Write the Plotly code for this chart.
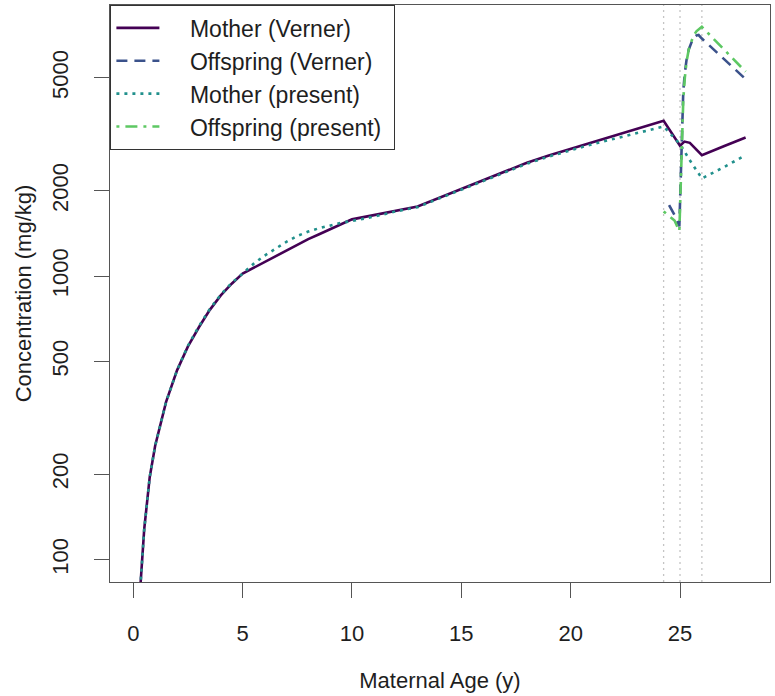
import plotly.graph_objects as go

# ---------------- data ----------------
age_mother = [0.25, 0.34, 0.5, 0.75, 1.0, 1.5, 2.0, 2.5, 3.0, 3.5, 4.0, 4.5, 5.0,
              5.5, 6.0, 6.5, 7.0, 7.5, 8.0, 8.5, 9.0, 9.5, 10.0, 11.0, 12.0, 13.0, 14.0,
              15.0, 16.0, 17.0, 18.0, 19.0, 20.0, 21.0, 22.0, 23.0, 24.0, 24.25, 25.0,
              25.2, 25.45, 26.0, 27.0, 28.0]
mother_verner = [70, 84, 128, 195, 252, 360, 465, 565, 660, 760, 855, 940, 1020,
                 1070, 1122, 1175, 1230, 1290, 1350, 1405, 1463, 1522, 1585, 1640, 1700,
                 1760, 1890, 2030, 2180, 2340, 2510, 2660, 2810, 2970, 3120, 3300, 3480,
                 3530, 2880, 2980, 2950, 2670, 2870, 3080]
mother_present = [70, 84, 128, 195, 252, 360, 465, 568, 665, 765, 860, 945, 1020,
                  1105, 1180, 1250, 1320, 1385, 1435, 1475, 1510, 1540, 1565, 1620, 1690,
                  1750, 1880, 2020, 2170, 2330, 2490, 2640, 2780, 2920, 3050, 3180, 3330,
                  3370, 2920, 2750, 2560, 2210, 2420, 2670]

age_off_verner = [24.5, 24.75, 24.97, 25.05, 25.1, 25.15, 25.22, 25.3, 25.4, 25.5,
                  25.6, 25.75, 25.85, 26.0, 26.5, 27.0, 27.5, 28.0]
off_verner = [1780, 1640, 1500, 2300, 3300, 4500, 5200, 5800, 6300, 6650,
              6900, 7050, 7080, 6880, 6340, 5840, 5380, 4950]

age_off_present = [24.25, 24.5, 24.75, 24.97, 25.03, 25.08, 25.15, 25.22, 25.3, 25.4,
                   25.5, 25.6, 25.75, 26.0, 26.5, 27.0, 27.5, 28.0]
off_present = [1690, 1630, 1570, 1440, 2000, 3000, 4200, 5000, 5700, 6300,
               6700, 7000, 7300, 7570, 6910, 6310, 5760, 5260]

event_ages = [24.25, 25.0, 26.0]          # conception, birth, weaning

x_ticks = [0, 5, 10, 15, 20, 25]
y_ticks = [100, 200, 500, 1000, 2000, 5000]
y_tick_labels = ["100", "200", "500", "1000", "2000", "5000"]

series_names = ["Mother (Verner)", "Offspring (Verner)", "Mother (present)", "Offspring (present)"]
series_colors = ["#440154", "#3B528B", "#21908C", "#5DC863"]

# ---------------- figure ----------------
FONT = "Liberation Sans, Arial, sans-serif"
TXT = "#1e1e1e"
PAD = "\u00a0" * 4   # gap between legend line sample and label

fig = go.Figure()
series = [
    (age_mother, mother_verner, "solid"),
    (age_off_verner, off_verner, "11px,7px"),
    (age_mother, mother_present, "3px,5px"),
    (age_off_present, off_present, "3px,6px,12px,6px"),
]
for (xs, ys, dash), name, col in zip(series, series_names, series_colors):
    fig.add_trace(go.Scatter(x=xs, y=ys, mode="lines", name=PAD + name + "\u00a0",
                             line=dict(color=col, width=2.6, dash=dash)))

for a in event_ages:
    fig.add_shape(type="line", xref="x", yref="paper", x0=a, x1=a, y0=0, y1=1,
                  line=dict(color="#c4c4c4", width=1.3, dash="2px,4px"), layer="below")

axis_common = dict(showgrid=False, zeroline=False, showline=True, mirror=True,
                   automargin=False,
                   linecolor="#555555", linewidth=1.4, ticks="outside", ticklen=15,
                   tickwidth=1.4, tickcolor="#555555",
                   tickfont=dict(family=FONT, size=22, color=TXT))

fig.update_xaxes(range=[-1.065, 29.115], tickvals=x_ticks, ticklabelstandoff=16,
                 title=dict(text="Maternal Age (y)", font=dict(family=FONT, size=22, color=TXT),
                            standoff=28),
                 **axis_common)
fig.update_yaxes(type="log", range=[1.921, 3.956], tickvals=y_ticks, ticktext=y_tick_labels,
                 tickangle=-90, ticklabelstandoff=17,
                 title=dict(text="Concentration (mg/kg)", font=dict(family=FONT, size=22, color=TXT),
                            standoff=10),
                 **axis_common)

fig.update_layout(
    width=775, height=696,
    margin=dict(l=110, r=5, t=5, b=114, autoexpand=False),
    paper_bgcolor="white", plot_bgcolor="white",
    font=dict(family=FONT, size=22, color=TXT),
    showlegend=True,
    legend=dict(x=0, y=1, xanchor="left", yanchor="top",
                bgcolor="white", bordercolor="#333333", borderwidth=1.4,
                font=dict(family=FONT, size=23, color=TXT),
                itemwidth=43, tracegroupgap=0),
)

fig.write_html("out.html", config={"displayModeBar": False},
               post_script="document.body.style.margin='0';")
